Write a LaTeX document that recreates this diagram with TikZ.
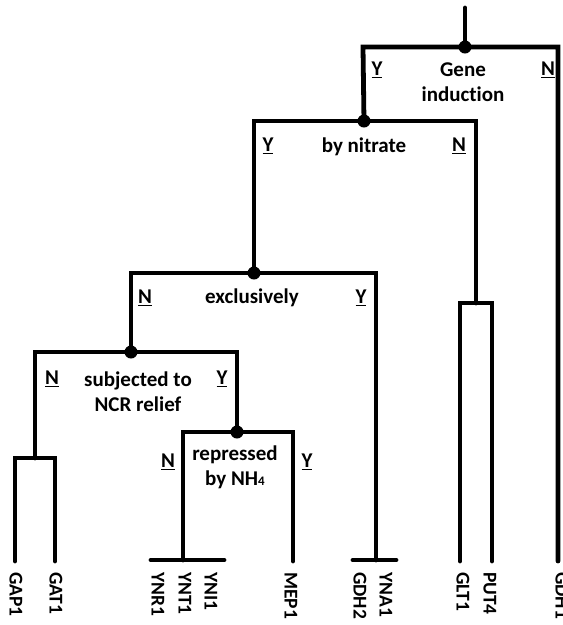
\documentclass[tikz,border=0pt]{standalone}
\usepackage{fontspec}
\setmainfont[Ligatures=NoCommon]{Carlito}
\begin{document}
\begin{tikzpicture}[x=1pt,y=-1pt,
  tree/.style={line width=4.8pt,line cap=round,line join=miter},
  dotnode/.style={circle,fill=black,inner sep=0pt,minimum size=13pt},
  lbl/.style={font=\bfseries\fontsize{21}{25}\selectfont,inner sep=0pt,align=center},
  yn/.style={font=\bfseries\fontsize{21}{25}\selectfont,inner sep=0pt},
  gene/.style={font=\bfseries\fontsize{19.5}{22}\selectfont,rotate=-90,anchor=west,inner sep=0pt}]
\useasboundingbox (0,0) rectangle (563,625);
% coordinates
\coordinate (top) at (465,8);
\coordinate (r) at (465,47);
\coordinate (rL) at (363,47);
\coordinate (rR) at (558,47);
\coordinate (gdh1) at (558,561);
\coordinate (n1) at (364,121);
\coordinate (n1L) at (254,121);
\coordinate (n1R) at (476,121);
\coordinate (b2) at (476,303);
\coordinate (b2L) at (460,303);
\coordinate (b2R) at (492,303);
\coordinate (glt) at (460,561);
\coordinate (put) at (492,561);
\coordinate (n2) at (254,273);
\coordinate (n2L) at (131,273);
\coordinate (n2R) at (376,273);
\coordinate (t2) at (376,560);
\coordinate (t2L) at (353,560);
\coordinate (t2R) at (396,560);
\coordinate (n3) at (131,352);
\coordinate (n3L) at (35,352);
\coordinate (n3R) at (237,352);
\coordinate (b1) at (35,458);
\coordinate (b1L) at (15,458);
\coordinate (b1R) at (55,458);
\coordinate (gap) at (15,561);
\coordinate (gat) at (55,561);
\coordinate (n4) at (237,432);
\coordinate (n4L) at (183,432);
\coordinate (n4R) at (293,432);
\coordinate (t4) at (183,560);
\coordinate (t4L) at (151,560);
\coordinate (t4R) at (224,560);
\coordinate (mep) at (293,561);
% lines
\draw[tree] (top) -- (r);
\draw[tree] (n1) -- (rL) -- (rR) -- (gdh1);
\draw[tree] (n2) -- (n1L) -- (n1R) -- (b2);
\draw[tree] (glt) -- (b2L) -- (b2R) -- (put);
\draw[tree] (n3) -- (n2L) -- (n2R) -- (t2);
\draw[tree] (t2L) -- (t2R);
\draw[tree] (b1) -- (n3L) -- (n3R) -- (n4);
\draw[tree] (gap) -- (b1L) -- (b1R) -- (gat);
\draw[tree] (t4) -- (n4L) -- (n4R) -- (mep);
\draw[tree] (t4L) -- (t4R);
% dots
\foreach \p in {r,n1,n2,n3,n4} \node[dotnode] at (\p) {};
% decision labels
\node[lbl] (q1) at (463,82) {Gene\\induction};
\node[yn] (q1y) at (377,70) {\underline{Y}};
\node[yn] (q1n) at (548,70) {\underline{N}};
\node[lbl] (q2) at (364,147) {by nitrate};
\node[yn] (q2y) at (268,146) {\underline{Y}};
\node[yn] (q2n) at (459,146) {\underline{N}};
\node[lbl] (q3) at (252,298) {exclusively};
\node[yn] (q3n) at (145,298) {\underline{N}};
\node[yn] (q3y) at (361,298) {\underline{Y}};
\node[lbl] (q4) at (138,392) {subjected to\\NCR relief};
\node[yn] (q4n) at (52,379) {\underline{N}};
\node[yn] (q4y) at (222,379) {\underline{Y}};
\node[lbl] (q5) at (235,467) {repressed\\by NH{\fontsize{13}{13}\selectfont 4}};
\node[yn] (q5n) at (168,462) {\underline{N}};
\node[yn] (q5y) at (307,462) {\underline{Y}};
% genes
\node[gene] (gGAP1) at (16,572) {GAP1};
\node[gene] (gGAT1) at (56,572) {GAT1};
\node[gene] (gYNR1) at (158,572) {YNR1};
\node[gene] (gYNT1) at (185,572) {YNT1};
\node[gene] (gYNI1) at (211,572) {YNI1};
\node[gene] (gMEP1) at (291,572) {MEP1};
\node[gene] (gGDH2) at (360,572) {GDH2};
\node[gene] (gYNA1) at (386,572) {YNA1};
\node[gene] (gGLT1) at (463,572) {GLT1};
\node[gene] (gPUT4) at (490,572) {PUT4};
\node[gene] (gGDH1) at (562,572) {GDH1};
\end{tikzpicture}
\end{document}
